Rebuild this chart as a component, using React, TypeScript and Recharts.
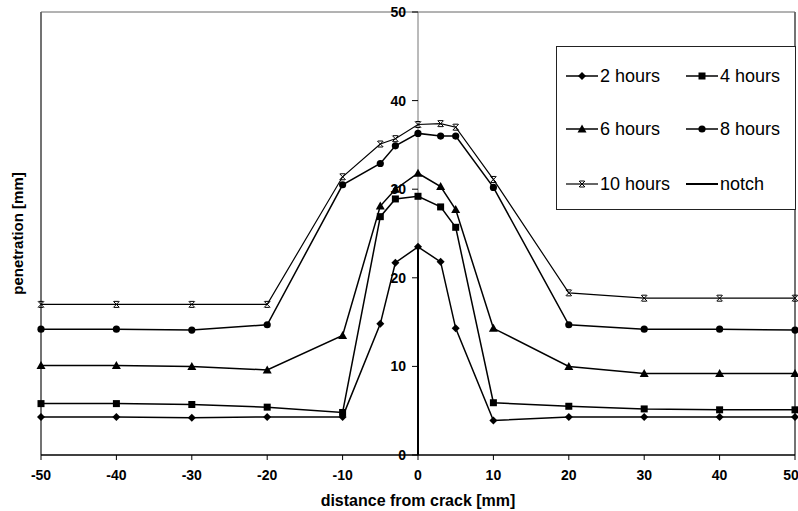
import { Legend, Line, LineChart, ReferenceDot, ReferenceLine, XAxis, YAxis } from "recharts";

// distance from crack [mm]
const distances = [-50, -40, -30, -20, -10, -5, -3, 0, 3, 5, 10, 20, 30, 40, 50];

// penetration [mm] per exposure time
const hours2 = [4.3, 4.3, 4.2, 4.3, 4.3, 14.8, 21.7, 23.5, 21.8, 14.3, 3.9, 4.3, 4.3, 4.3, 4.3];
const hours4 = [5.8, 5.8, 5.7, 5.4, 4.8, 26.9, 28.9, 29.2, 28.0, 25.7, 5.9, 5.5, 5.2, 5.1, 5.1];
const hours6 = [10.1, 10.1, 10.0, 9.6, 13.5, 28.1, 30.0, 31.8, 30.3, 27.7, 14.3, 10.0, 9.2, 9.2, 9.2];
const hours8 = [14.2, 14.2, 14.1, 14.7, 30.5, 32.9, 34.9, 36.3, 36.0, 36.0, 30.2, 14.7, 14.2, 14.2, 14.1];
const hours10 = [17.0, 17.0, 17.0, 17.0, 31.4, 35.1, 35.7, 37.3, 37.4, 37.0, 31.1, 18.3, 17.7, 17.7, 17.7];

// notch drawn at the crack position
const notchX = [0, 0];
const notchY = [0, 23.5];

const xTicks = [-50, -40, -30, -20, -10, 0, 10, 20, 30, 40, 50];
const yTicks = [0, 10, 20, 30, 40, 50];

const rows = distances.map((x, i) => ({
  x,
  h2: hours2[i],
  h4: hours4[i],
  h6: hours6[i],
  h8: hours8[i],
  h10: hours10[i],
}));
const notch = notchX.map((x, i) => ({ x, notch: notchY[i] }));

type Kind = "diamond" | "square" | "triangle" | "circle" | "star" | "none";

const series: { key: string; name: string; kind: Kind; width: number }[] = [
  { key: "h2", name: "2 hours", kind: "diamond", width: 1.5 },
  { key: "h4", name: "4 hours", kind: "square", width: 1.5 },
  { key: "h6", name: "6 hours", kind: "triangle", width: 1.5 },
  { key: "h8", name: "8 hours", kind: "circle", width: 1.5 },
  { key: "h10", name: "10 hours", kind: "star", width: 1.2 },
  { key: "notch", name: "notch", kind: "none", width: 2 },
];

const FONT = "'Liberation Sans', Arial, sans-serif";

function Marker({ cx, cy, kind }: { cx: number; cy: number; kind: Kind }) {
  if (kind === "diamond")
    return <polygon points={`${cx},${cy - 4} ${cx + 4},${cy} ${cx},${cy + 4} ${cx - 4},${cy}`} fill="#000" />;
  if (kind === "square") return <rect x={cx - 3.5} y={cy - 3.5} width={7} height={7} fill="#000" />;
  if (kind === "triangle")
    return <polygon points={`${cx},${cy - 4.5} ${cx + 4.5},${cy + 3.5} ${cx - 4.5},${cy + 3.5}`} fill="#000" />;
  if (kind === "circle") return <circle cx={cx} cy={cy} r={3.6} fill="#000" />;
  if (kind === "star")
    return (
      <g stroke="#000" strokeWidth={1}>
        <line x1={cx - 3} y1={cy - 3} x2={cx + 3} y2={cy + 3} />
        <line x1={cx + 3} y1={cy - 3} x2={cx - 3} y2={cy + 3} />
        <line x1={cx - 2.5} y1={cy - 3} x2={cx + 2.5} y2={cy - 3} />
        <line x1={cx - 2.5} y1={cy + 3} x2={cx + 2.5} y2={cy + 3} />
      </g>
    );
  return null;
}

const dotFor = (kind: Kind) => (p: any) => (
  <g key={`${kind}-${p.index}`}>
    <Marker cx={p.cx} cy={p.cy} kind={kind} />
  </g>
);

function LegendBox() {
  return (
    <div
      style={{
        position: "relative",
        width: 240,
        height: 164,
        boxSizing: "border-box",
        border: "1.5px solid #222",
        background: "#fff",
        fontFamily: FONT,
        fontSize: 18,
        color: "#000",
      }}
    >
      {series.map((s, i) => {
        const col = i % 2;
        const row = Math.floor(i / 2);
        const left = col === 0 ? 8 : 128;
        const top = [29, 82, 137][row];
        return (
          <div key={s.key} style={{ position: "absolute", left, top: top - 11, height: 22, display: "flex", alignItems: "center" }}>
            <svg width={34} height={22}>
              <line x1={1} y1={11} x2={33} y2={11} stroke="#000" strokeWidth={s.width} />
              <Marker cx={17} cy={11} kind={s.kind} />
            </svg>
            <span style={{ marginLeft: 1, whiteSpace: "nowrap" }}>{s.name}</span>
          </div>
        );
      })}
    </div>
  );
}

export default function App() {
  return (
    <div style={{ width: 798, height: 511, background: "#fff" }}>
      <style>{"body{margin:0;}"}</style>
      <LineChart width={798} height={511} data={rows} margin={{ top: 12, right: 3, left: 0, bottom: 0 }}>
        <XAxis
          dataKey="x"
          type="number"
          domain={[-50, 50]}
          ticks={xTicks}
          height={56}
          axisLine={{ stroke: "#000", strokeWidth: 1.5 }}
          tickLine={{ stroke: "#000" }}
          tickSize={5}
          tickMargin={10}
          tick={{ fill: "#000", fontSize: 14, fontWeight: "bold", fontFamily: FONT }}
          label={{
            value: "distance from crack [mm]",
            position: "insideBottom",
            offset: 5,
            fill: "#000",
            fontSize: 16,
            fontWeight: "bold",
            fontFamily: FONT,
          }}
        />
        <YAxis
          type="number"
          domain={[0, 50]}
          ticks={yTicks}
          width={41}
          tick={false}
          tickLine={false}
          axisLine={false}
          label={{
            value: "penetration [mm]",
            angle: -90,
            position: "center",
            dx: -3,
            fill: "#000",
            fontSize: 15,
            fontWeight: "bold",
            fontFamily: FONT,
          }}
        />
        {/* plot frame */}
        <ReferenceLine x={-50} stroke="#444" strokeWidth={1.5} />
        <ReferenceLine x={50} stroke="#444" strokeWidth={1.5} />
        <ReferenceLine y={50} stroke="#666" strokeWidth={1} />
        {/* value axis through the crack */}
        <ReferenceLine x={0} stroke="#777" strokeWidth={1} />
        {yTicks.map((v) => (
          <ReferenceDot
            key={v}
            x={0}
            y={v}
            r={0}
            ifOverflow="visible"
            shape={(p: any) => (
              <g>
                <line x1={p.cx - 6} y1={p.cy} x2={p.cx} y2={p.cy} stroke="#000" strokeWidth={1} />
                <text
                  x={p.cx - 12}
                  y={p.cy}
                  dy="0.35em"
                  textAnchor="end"
                  fill="#000"
                  fontSize={14}
                  fontWeight="bold"
                  fontFamily={FONT}
                >
                  {v}
                </text>
              </g>
            )}
          />
        ))}
        <Legend
          verticalAlign="middle"
          layout="horizontal"
          wrapperStyle={{ left: 556, top: 46, width: 240, height: 164 }}
          content={() => <LegendBox />}
        />
        {series
          .filter((s) => s.key !== "notch")
          .map((s) => (
            <Line
              key={s.key}
              dataKey={s.key}
              name={s.name}
              type="linear"
              stroke="#000"
              strokeWidth={s.width}
              dot={dotFor(s.kind)}
              activeDot={false}
              isAnimationActive={false}
            />
          ))}
        <Line
          data={notch}
          dataKey="notch"
          name="notch"
          type="linear"
          stroke="#000"
          strokeWidth={2}
          dot={false}
          activeDot={false}
          isAnimationActive={false}
        />
      </LineChart>
    </div>
  );
}
